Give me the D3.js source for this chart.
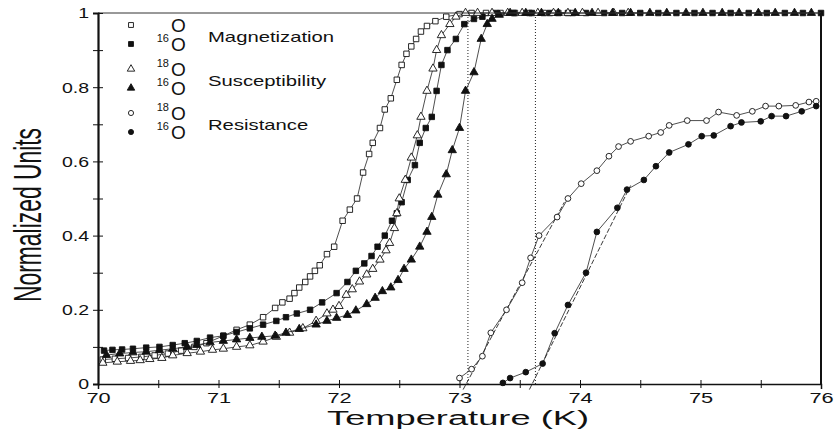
<!DOCTYPE html>
<html>
<head>
<meta charset="utf-8">
<script src="https://cdn.jsdelivr.net/npm/d3@7/dist/d3.min.js"></script>
<style>
  body { margin: 0; background: #fff; }
  svg text { font-family: "Liberation Sans", Arial, Helvetica, sans-serif; fill: #111; }
</style>
</head>
<body>
<svg id="chart" width="836" height="436"></svg>
<script>
// Magnetization, 18O (open squares)
const mag18T = [70.04, 70.14, 70.25, 70.36, 70.47, 70.58, 70.69, 70.8, 70.9, 71.04, 71.15, 71.26, 71.37, 71.47,
  71.53, 71.59, 71.63, 71.67, 71.72, 71.76, 71.8, 71.84, 71.9, 71.96, 72.03, 72.09, 72.15, 72.2, 72.25, 72.28,
  72.34, 72.38, 72.43, 72.48, 72.52, 72.56, 72.6, 72.64, 72.68, 72.73, 72.8, 72.89, 73.0,
  73.1, 73.22, 73.34, 73.46, 73.58, 73.7, 73.82, 73.94];
const mag18V = [0.066, 0.068, 0.07, 0.073, 0.077, 0.082, 0.09, 0.1, 0.11, 0.13, 0.146, 0.16, 0.18, 0.205,
  0.22, 0.23, 0.245, 0.26, 0.275, 0.29, 0.305, 0.32, 0.35, 0.37, 0.44, 0.47, 0.5, 0.57, 0.62, 0.65,
  0.69, 0.74, 0.77, 0.82, 0.86, 0.89, 0.91, 0.93, 0.95, 0.965, 0.978, 0.99, 0.997,
  1, 1, 1, 1, 1, 1, 1, 1];

// Magnetization, 16O (filled squares)
const mag16T = [70.05, 70.12, 70.2, 70.29, 70.4, 70.51, 70.62, 70.72, 70.82, 70.93, 71.04, 71.15, 71.26, 71.37,
  71.48, 71.56, 71.65, 71.76, 71.86, 71.98, 72.07, 72.14, 72.21, 72.27, 72.32, 72.38, 72.44, 72.48, 72.52,
  72.57, 72.63, 72.67, 72.72, 72.77, 72.81, 72.85, 72.9, 72.97, 73.04, 73.12, 73.19,
  73.3, 73.45, 73.6, 73.75, 73.9, 74.05, 74.2, 74.35, 74.5, 74.65, 74.8, 74.95, 75.1, 75.25, 75.4, 75.55,
  75.7, 75.85, 76.0];
const mag16V = [0.09, 0.092, 0.093, 0.095, 0.098, 0.1, 0.105, 0.11, 0.116, 0.125, 0.13, 0.14, 0.15, 0.16,
  0.17, 0.18, 0.19, 0.2, 0.22, 0.245, 0.275, 0.305, 0.325, 0.345, 0.37, 0.4, 0.44, 0.46, 0.49,
  0.55, 0.59, 0.65, 0.69, 0.72, 0.79, 0.86, 0.9, 0.93, 0.97, 0.984, 0.99,
  1, 1, 1, 1, 1, 1, 1, 1, 1, 1, 1, 1, 1, 1, 1, 1,
  1, 1, 1];

// Susceptibility, 18O (open triangles)
const sus18T = [70.04, 70.16, 70.27, 70.35, 70.43, 70.53, 70.62, 70.74, 70.85, 70.95, 71.04, 71.15, 71.26, 71.37,
  71.48, 71.59, 71.7, 71.81, 71.9, 71.95, 72.0, 72.06, 72.11, 72.17, 72.23, 72.28, 72.34, 72.39, 72.42, 72.46,
  72.48, 72.5, 72.55, 72.6, 72.65, 72.68, 72.73, 72.78, 72.81, 72.85, 72.92, 72.97,
  73.05, 73.15, 73.27, 73.4, 73.52, 73.65, 73.78, 73.9, 74.02, 74.15, 74.28, 74.4];
const sus18V = [0.057, 0.06, 0.062, 0.064, 0.067, 0.07, 0.077, 0.083, 0.087, 0.092, 0.095, 0.1, 0.104, 0.114,
  0.127, 0.138, 0.15, 0.17, 0.19, 0.2, 0.21, 0.24, 0.255, 0.276, 0.295, 0.31, 0.335, 0.36, 0.38, 0.42,
  0.46, 0.5, 0.55, 0.61, 0.67, 0.72, 0.79, 0.85, 0.9, 0.94, 0.97, 0.99,
  1, 1, 1, 1, 1, 1, 1, 1, 1, 1, 1, 1];

// Susceptibility, 16O (filled triangles)
const sus16T = [70.07, 70.18, 70.29, 70.4, 70.51, 70.62, 70.74, 70.82, 70.93, 71.04, 71.15, 71.26, 71.36, 71.47,
  71.56, 71.67, 71.81, 71.9, 71.98, 72.07, 72.14, 72.23, 72.3, 72.36, 72.43, 72.49, 72.54, 72.6, 72.67, 72.73,
  72.77, 72.82, 72.89, 72.94, 73.0, 73.05, 73.12, 73.18, 73.23, 73.27, 73.33,
  73.42, 73.55, 73.68, 73.82, 73.96, 74.1, 74.27, 74.42, 74.58, 74.72, 74.88, 75.02, 75.18, 75.32, 75.48,
  75.62, 75.78, 75.92];
const sus16V = [0.078, 0.082, 0.085, 0.087, 0.091, 0.095, 0.1, 0.105, 0.112, 0.116, 0.12, 0.124, 0.127, 0.13,
  0.138, 0.148, 0.16, 0.17, 0.178, 0.186, 0.198, 0.215, 0.232, 0.25, 0.26, 0.28, 0.31, 0.335, 0.37, 0.41,
  0.45, 0.51, 0.565, 0.63, 0.69, 0.79, 0.84, 0.93, 0.97, 0.984, 0.995,
  1, 1, 1, 1, 1, 1, 1, 1, 1, 1, 1, 1, 1, 1, 1,
  1, 1, 1];

// Resistance, 18O (open circles)
const res18T = [73.0, 73.1, 73.19, 73.26, 73.39, 73.52, 73.59, 73.66, 73.81, 73.9, 74.01, 74.14, 74.24, 74.32,
  74.42, 74.57, 74.67, 74.74, 74.89, 75.05, 75.15, 75.3, 75.43, 75.54, 75.65, 75.79, 75.9, 75.96];
const res18V = [0.016, 0.04, 0.075, 0.138, 0.2, 0.273, 0.34, 0.4, 0.45, 0.5, 0.54, 0.575, 0.614, 0.64,
  0.654, 0.668, 0.678, 0.697, 0.71, 0.71, 0.733, 0.724, 0.735, 0.749, 0.749, 0.751, 0.76, 0.762];

// Resistance, 16O (filled circles)
const res16T = [73.36, 73.42, 73.55, 73.69, 73.79, 73.9, 74.05, 74.14, 74.31, 74.39, 74.53, 74.63, 74.74, 74.9,
  75.01, 75.11, 75.25, 75.34, 75.5, 75.59, 75.71, 75.84, 75.96];
const res16V = [0.003, 0.016, 0.032, 0.055, 0.137, 0.213, 0.3, 0.41, 0.475, 0.524, 0.55, 0.587, 0.624, 0.646,
  0.668, 0.67, 0.695, 0.705, 0.708, 0.722, 0.722, 0.735, 0.749];

// linear extrapolations of the resistance curves and the onset temperatures
const fit18T = [73.03, 73.87];
const fit18V = [-0.015, 0.49];
const fit16T = [73.58, 74.42];
const fit16V = [-0.015, 0.535];
const onsetT = [73.07, 73.63];

// axes
const xTicks = [70, 71, 72, 73, 74, 75, 76];
const xMinor = [70.5, 71.5, 72.5, 73.5, 74.5, 75.5];
const yTicks = [0, 0.2, 0.4, 0.6, 0.8, 1];
const yLabels = ["0", "0.2", "0.4", "0.6", "0.8", "1"];
const yMinor = [0.1, 0.3, 0.5, 0.7, 0.9];

const legendIsotopes = ["", "16", "18", "16", "18", "16"];
const legendLabels = ["Magnetization", "Susceptibility", "Resistance"];

const svg = d3.select("#chart");
const x = d3.scaleLinear().domain([70, 76]).range([98, 821]);
const y = d3.scaleLinear().domain([0, 1]).range([384, 13]);

function widen(sel, k) {
  sel.each(function () {
    const w = this.getComputedTextLength();
    d3.select(this).attr("textLength", w * k).attr("lengthAdjust", "spacingAndGlyphs");
  });
}

// dotted onset lines
svg.selectAll(".onset").data(onsetT).enter().append("line")
  .attr("x1", d => x(d)).attr("x2", d => x(d))
  .attr("y1", y(0)).attr("y2", y(1))
  .attr("stroke", "#222").attr("stroke-width", 1).attr("stroke-dasharray", "1,2");

// dashed fit lines
[[fit18T, fit18V], [fit16T, fit16V]].forEach(([t, v]) => {
  svg.append("line")
    .attr("x1", x(t[0])).attr("y1", y(v[0]))
    .attr("x2", x(t[1])).attr("y2", y(v[1]))
    .attr("stroke", "#222").attr("stroke-width", 0.9).attr("stroke-dasharray", "5,2");
});

const series = [
  { t: mag18T, v: mag18V, shape: d3.symbolSquare, size: 30, fill: "#fff" },
  { t: mag16T, v: mag16V, shape: d3.symbolSquare, size: 30, fill: "#111" },
  { t: sus18T, v: sus18V, shape: d3.symbolTriangle, size: 30, fill: "#fff" },
  { t: sus16T, v: sus16V, shape: d3.symbolTriangle, size: 30, fill: "#111" },
  { t: res18T, v: res18V, shape: d3.symbolCircle, size: 26, fill: "#fff" },
  { t: res16T, v: res16V, shape: d3.symbolCircle, size: 26, fill: "#111" }
];

const line = d3.line().x(d => x(d[0])).y(d => y(d[1]));

series.forEach(s => {
  const pts = s.t.map((t, i) => [t, s.v[i]]);
  svg.append("path").datum(pts)
    .attr("d", line)
    .attr("fill", "none").attr("stroke", "#222").attr("stroke-width", 0.8);
  svg.append("g").selectAll("path").data(pts).enter().append("path")
    .attr("d", d3.symbol().type(s.shape).size(s.size))
    .attr("transform", d => `translate(${x(d[0])},${y(d[1])})`)
    .attr("fill", s.fill).attr("stroke", "#111").attr("stroke-width", 0.9);
});

// frame
svg.append("line").attr("x1", x(70)).attr("x2", x(76)).attr("y1", y(1)).attr("y2", y(1))
  .attr("stroke", "#333").attr("stroke-width", 1);
svg.append("line").attr("x1", x(76)).attr("x2", x(76)).attr("y1", y(1)).attr("y2", y(0))
  .attr("stroke", "#111").attr("stroke-width", 2);

// x axis
const xAll = xTicks.concat(xMinor).sort(d3.ascending);
const gx = svg.append("g").attr("transform", `translate(0,${y(0)})`)
  .call(d3.axisBottom(x).tickValues(xAll).tickSize(5).tickPadding(3)
    .tickFormat(d => xTicks.includes(d) ? d : ""));
gx.select(".domain").attr("stroke", "#111").attr("stroke-width", 1.5);
gx.selectAll(".tick line").attr("y1", -4).attr("y2", 4).attr("stroke", "#111");
gx.selectAll(".tick text").attr("font-size", 15).attr("font-family", null);
widen(gx.selectAll(".tick text"), 1.45);

// y axis
const yAll = yTicks.concat(yMinor).sort(d3.ascending);
const gy = svg.append("g").attr("transform", `translate(${x(70)},0)`)
  .call(d3.axisLeft(y).tickValues(yAll).tickSize(5).tickPadding(4)
    .tickFormat(d => { const i = yTicks.indexOf(d); return i >= 0 ? yLabels[i] : ""; }));
gy.select(".domain").attr("stroke", "#111").attr("stroke-width", 2.2);
gy.selectAll(".tick line").attr("x1", -5).attr("x2", 5).attr("stroke", "#111");
gy.selectAll(".tick text").attr("font-size", 15).attr("font-family", null);
widen(gy.selectAll(".tick text"), 1.3);

// axis titles
svg.append("text").attr("x", 458).attr("y", 425).attr("text-anchor", "middle")
  .attr("font-size", 20)
  .attr("textLength", 262).attr("lengthAdjust", "spacingAndGlyphs")
  .text("Temperature (K)");

svg.append("text").attr("transform", "translate(41,215) rotate(-90)")
  .attr("text-anchor", "middle").attr("font-size", 38)
  .attr("textLength", 174).attr("lengthAdjust", "spacingAndGlyphs")
  .text("Normalized Units");

// legend
series.forEach((s, i) => {
  const g = Math.floor(i / 2), r = i % 2;
  const ly = 25 + g * 44 + r * 19;
  svg.append("path")
    .attr("d", d3.symbol().type(s.shape).size(s.size * 0.8))
    .attr("transform", `translate(131,${ly})`)
    .attr("fill", s.fill).attr("stroke", "#111").attr("stroke-width", 0.9);
  svg.append("text").attr("x", 169).attr("y", ly - 2).attr("text-anchor", "end")
    .attr("font-size", 11).text(legendIsotopes[i]);
  svg.append("text").attr("x", 171).attr("y", ly + 7)
    .attr("font-size", 19).text("O");
});
legendLabels.forEach((lab, g) => {
  const t = svg.append("text").attr("x", 208).attr("y", 42 + g * 44)
    .attr("font-size", 15).text(lab);
  widen(t, 1.35);
});
</script>
</body>
</html>
